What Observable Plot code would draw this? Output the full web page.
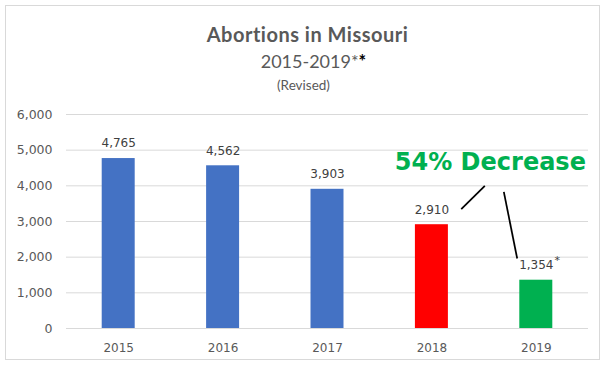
<!DOCTYPE html>
<html>
<head>
<meta charset="utf-8">
<script src="https://cdn.jsdelivr.net/npm/d3@7"></script>
<script src="https://cdn.jsdelivr.net/npm/@observablehq/plot@0.6"></script>
<style>
  html, body { margin: 0; padding: 0; background: #fff; }
  #frame { position: relative; width: 607px; height: 367px; overflow: hidden; }
  #border { position: absolute; left: 5px; top: 5px; width: 595px; height: 355px; border: 1px solid #d9d9d9; box-sizing: border-box; }
  .t { position: absolute; left: 0; width: 607px; text-align: center; color: #595959; white-space: nowrap; }
  #title { top: 22px; font: bold 20px Lato, "Open Sans", sans-serif; line-height: 24px; letter-spacing: 0.5px; padding-left: 4px; }
  #sub { top: 50px; font: 18px Lato, "Open Sans", sans-serif; line-height: 22px; padding-left: 10px; }
  #sub b { color: #000; }
  #rev { top: 76px; font: 13.5px Lato, "Open Sans", sans-serif; line-height: 18px; }
  #chart { position: absolute; left: 0; top: 100px; }
</style>
</head>
<body>
<div id="frame">
  <div id="border"></div>
  <div class="t" id="title">Abortions in Missouri</div>
  <div class="t" id="sub">2015-2019*<b>*</b></div>
  <div class="t" id="rev">(Revised)</div>
  <div id="chart"></div>
</div>
<script>
const years = [2015, 2016, 2017, 2018, 2019];
const values = [4765, 4562, 3903, 2910, 1354];
const barColors = ["#4472C4", "#4472C4", "#4472C4", "#FF0000", "#00B050"];
const yTicks = [0, 1000, 2000, 3000, 4000, 5000, 6000];
const footnoteMark = "*";

// annotation: "54% Decrease" callout with two leader lines (data coordinates)
const calloutText = ["54% Decrease"];
const calloutX = [2018.56];
const calloutY = [4654];
const leaderX1 = [2018.281, 2018.689];
const leaderY1 = [3345, 3830];
const leaderX2 = [2018.507, 2018.817];
const leaderY2 = [3998, 1962];

const data = years.map((year, i) => ({year, value: values[i], color: barColors[i]}));
const callout = calloutText.map((text, i) => ({text, x: calloutX[i], y: calloutY[i]}));
const leaders = leaderX1.map((x1, i) => ({x1, y1: leaderY1[i], x2: leaderX2[i], y2: leaderY2[i]}));
const fmt = d3.format(",");

const chart = Plot.plot({
  width: 607,
  height: 260,
  marginLeft: 66,
  marginRight: 19,
  marginTop: 14,
  marginBottom: 32,
  style: {fontFamily: "'DejaVu Sans', Verdana, sans-serif", background: "transparent"},
  x: {domain: [2014.5, 2019.5]},
  y: {domain: [0, 6000]},
  marks: [
    Plot.ruleY(yTicks, {stroke: "#d9d9d9", strokeWidth: 1}),
    Plot.axisY({ticks: yTicks, tickSize: 0, tickPadding: 14, tickFormat: fmt, fontSize: 12.5, fill: "#595959", label: null}),
    Plot.axisX({ticks: years, tickSize: 0, tickPadding: 15, tickFormat: d => String(d), fontSize: 12, fill: "#595959", label: null}),
    Plot.rectY(data, {x1: d => d.year - 0.158, x2: d => d.year + 0.158, y: "value", fill: "color"}),
    Plot.text(data, {x: "year", y: "value", text: d => fmt(d.value), dy: -15, fontSize: 12, fill: "#404040"}),
    Plot.text(data.filter(d => d.year === 2019), {x: "year", y: "value", text: () => footnoteMark, dx: 21, dy: -20, fontSize: 11, fill: "#404040"}),
    Plot.link(leaders, {x1: "x1", y1: "y1", x2: "x2", y2: "y2", stroke: "#000", strokeWidth: 1.75}),
    Plot.text(callout, {x: "x", y: "y", text: "text", fontSize: 24, fontWeight: "bold", fill: "#00B050"})
  ]
});
document.getElementById("chart").appendChild(chart);
</script>
</body>
</html>
